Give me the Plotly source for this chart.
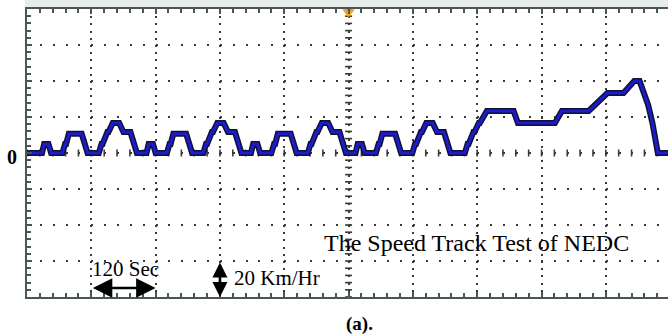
import numpy as np
import plotly.graph_objects as go

# ---- data: NEDC speed track (time in s from left edge of screen, speed km/h)
time_s = [0, 17, 28, 32, 40, 45, 66, 71, 73, 78, 102, 113, 134, 139, 141, 150, 152, 160, 172, 180, 193, 205,
          212, 223, 227, 235, 240, 261, 266, 268, 273, 297, 308, 329, 334, 336, 345, 347, 355, 367, 375, 388, 400,
          407, 418, 422, 430, 435, 456, 461, 463, 468, 492, 503, 524, 529, 531, 540, 542, 550, 562, 570, 583, 595,
          602, 613, 617, 625, 630, 651, 656, 658, 663, 687, 698, 719, 724, 726, 735, 737, 745, 757, 765, 778, 790,
          797, 817, 822, 824, 833, 835, 843, 845, 858, 908, 916, 985, 998, 1048, 1083, 1113, 1133, 1143, 1159,
          1167, 1177, 1205]
speed_kmh = [0, 0, 0, 15, 15, 0, 0, 15, 15, 32, 32, 0, 0, 15, 15, 35, 35, 50, 50, 35, 35, 0,
             0, 0, 15, 15, 0, 0, 15, 15, 32, 32, 0, 0, 15, 15, 35, 35, 50, 50, 35, 35, 0,
             0, 0, 15, 15, 0, 0, 15, 15, 32, 32, 0, 0, 15, 15, 35, 35, 50, 50, 35, 35, 0,
             0, 0, 15, 15, 0, 0, 15, 15, 32, 32, 0, 0, 15, 15, 35, 35, 50, 50, 35, 35, 0,
             0, 0, 15, 15, 35, 35, 50, 50, 70, 70, 50, 50, 70, 70, 100, 100, 120, 120, 80,
             50, 0, 0]

X_DIV = 120     # seconds per division
Y_DIV = 60      # km/h per division
X_MAX = 1196
Y_MAX = 240

FRAME = "#4a5656"
DOT = "#3a3a3a"
SERIF = "Liberation Serif"

fig = go.Figure()

# center-line tick marks (scope graticule)
cy = np.arange(-Y_MAX, Y_MAX + 0.1, Y_DIV / 5)
fig.add_trace(go.Scatter(x=[X_DIV * 5] * len(cy), y=cy, mode="markers",
                         marker=dict(symbol="line-ew", size=5, line=dict(width=1.6, color=DOT)),
                         hoverinfo="skip", showlegend=False))
cx = np.arange(0, X_MAX, X_DIV / 5)
fig.add_trace(go.Scatter(x=cx, y=[0] * len(cx), mode="markers",
                         marker=dict(symbol="line-ns", size=5, line=dict(width=1.6, color=DOT)),
                         hoverinfo="skip", showlegend=False))

# trace: dark outline + blue core
fig.add_trace(go.Scatter(x=time_s, y=speed_kmh, mode="lines",
                         line=dict(color="#111133", width=6), hoverinfo="skip", showlegend=False))
fig.add_trace(go.Scatter(x=time_s, y=speed_kmh, mode="lines",
                         line=dict(color="#1c1ccc", width=3), hoverinfo="skip", showlegend=False))

# ground marker and trigger marker
fig.add_trace(go.Scatter(x=[-4], y=[0], mode="markers", cliponaxis=False,
                         marker=dict(symbol="square", size=3, color="#2030e0"),
                         hoverinfo="skip", showlegend=False))
fig.add_trace(go.Scatter(x=[X_DIV * 5], y=[Y_MAX - 5], mode="markers", cliponaxis=False,
                         marker=dict(symbol="triangle-down", size=11, color="#f5a020"),
                         hoverinfo="skip", showlegend=False))

fig.update_layout(
    width=668, height=335,
    margin=dict(l=27, r=0, t=9, b=38),
    paper_bgcolor="white", plot_bgcolor="white",
    showlegend=False,
    shapes=[dict(type="rect", xref="paper", yref="paper", x0=-0.003, x1=1.01,
                 y0=1.0, y1=1 + 9 / 288, fillcolor="#e6ebeb", line_width=0, layer="below")],
)

fig.update_xaxes(range=[0, X_MAX], tick0=0, dtick=X_DIV, showticklabels=False,
                 showline=True, linecolor=FRAME, linewidth=2, mirror="ticks",
                 ticks="inside", ticklen=5, tickcolor=FRAME, tickwidth=1.5,
                 minor=dict(dtick=X_DIV / 5, ticks="inside", ticklen=4, tickcolor=FRAME, tickwidth=1.5,
                            showgrid=False),
                 showgrid=True, gridcolor=DOT, gridwidth=1.5, griddash="2px,5.2px",
                 zeroline=False, fixedrange=True)
fig.update_yaxes(range=[-Y_MAX, Y_MAX], tick0=0, dtick=Y_DIV, showticklabels=False,
                 showline=True, linecolor=FRAME, linewidth=2, mirror=False,
                 ticks="inside", ticklen=5, tickcolor=FRAME, tickwidth=1.5,
                 minor=dict(dtick=Y_DIV / 5, ticks="inside", ticklen=4, tickcolor=FRAME, tickwidth=1.5,
                            showgrid=False),
                 showgrid=True, gridcolor=DOT, gridwidth=1.5, griddash="2px,10.86px",
                 zeroline=False, fixedrange=True)

ann = []
# "0" level label
ann.append(dict(x=0, y=0, xref="paper", yref="y", text="<b>0</b>", showarrow=False,
                xanchor="right", xshift=-8, yshift=-4,
                font=dict(family=SERIF, size=20, color="black")))
# time scale arrow
ann.append(dict(x=2 * X_DIV, y=-225, ax=X_DIV, ay=-225, xref="x", yref="y", axref="x", ayref="y",
                text="", showarrow=True, arrowhead=2, arrowside="end+start", arrowsize=1.5,
                arrowwidth=2.6, arrowcolor="black"))
ann.append(dict(x=1.5 * X_DIV + 4, y=-193, xref="x", yref="y", text="120 Sec", showarrow=False,
                font=dict(family=SERIF, size=21, color="black")))
# speed scale arrow
ann.append(dict(x=3 * X_DIV, y=-Y_MAX, ax=3 * X_DIV, ay=-Y_MAX + Y_DIV, xref="x", yref="y",
                axref="x", ayref="y", text="", showarrow=True, arrowhead=2, arrowside="end+start",
                arrowsize=1.15, arrowwidth=2.6, arrowcolor="black"))
ann.append(dict(x=3 * X_DIV, y=-208, xref="x", yref="y", text="20 Km/Hr", showarrow=False,
                xanchor="left", xshift=12, font=dict(family=SERIF, size=21, color="black")))
# title text in the plot
ann.append(dict(x=550, y=-150, xref="x", yref="y", text="The Speed Track Test of NEDC", showarrow=False,
                xanchor="left", font=dict(family=SERIF, size=24, color="black")))
# caption
ann.append(dict(x=(359 - 27) / 641, y=-(324 - 297) / 288, xref="paper", yref="paper",
                text="<b>(a).</b>", showarrow=False, yanchor="middle",
                font=dict(family=SERIF, size=19, color="black")))
fig.update_layout(annotations=ann)

fig.write_html("out.html")
